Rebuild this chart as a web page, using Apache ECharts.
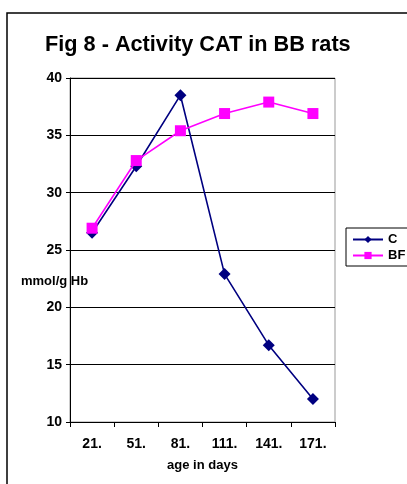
<!DOCTYPE html>
<html><head><meta charset="utf-8">
<script src="https://cdn.jsdelivr.net/npm/echarts@6/dist/echarts.min.js"></script>
<style>html,body{margin:0;padding:0;background:#fff}#c{width:407px;height:484px}</style>
</head><body><div id="c"></div>
<script>
const categories = ['21.', '51.', '81.', '111.', '141.', '171.'];
const seriesC = [26.5, 32.3, 38.5, 22.9, 16.7, 12.0];
const seriesBF = [26.9, 32.8, 35.4, 36.9, 37.9, 36.9];
const yTicks = {min: 10, max: 40, interval: 5};
const F = '"Liberation Sans", Arial, sans-serif';
const chart = echarts.init(document.getElementById('c'));
chart.setOption({
  animation: false,
  backgroundColor: '#fff',
  title: {text: 'Fig 8 - Activity CAT in BB rats', left: 40, top: 29,
    textStyle: {fontFamily: F, fontSize: 21.7, fontWeight: 'bold', color: '#000'}},
  graphic: [
    {type: 'rect', shape: {x: 7, y: 13, width: 420, height: 490}, style: {fill: 'none', stroke: '#000', lineWidth: 1.5}, z: 0},
    {type: 'text', left: 21, top: 275, style: {text: 'mmol/g Hb', font: 'bold 13px ' + F, fill: '#000'}, z: 10}
  ],
  legend: {
    orient: 'vertical', left: 346, top: 228, padding: [5, 6, 4, 6], itemGap: 3,
    borderColor: '#000', borderWidth: 1, itemWidth: 30, itemHeight: 9,
    textStyle: {fontFamily: F, fontSize: 13, fontWeight: 'bold', color: '#000'},
    data: ['C', 'BF']
  },
  grid: {left: 70, right: 72, top: 78, bottom: 62, show: true, borderColor: '#999', borderWidth: 1},
  xAxis: {
    type: 'category', data: categories, boundaryGap: true,
    name: 'age in days', nameLocation: 'middle', nameGap: 37,
    nameTextStyle: {fontFamily: F, fontSize: 13, fontWeight: 'bold', color: '#000'},
    axisLine: {lineStyle: {color: '#000', width: 1}},
    axisTick: {show: true, inside: false, length: 5, lineStyle: {color: '#000'}},
    axisLabel: {fontFamily: F, fontSize: 14, fontWeight: 'bold', color: '#000', margin: 15},
    splitLine: {show: false}
  },
  yAxis: {
    type: 'value', min: yTicks.min, max: yTicks.max, interval: yTicks.interval,
    axisLine: {show: true, lineStyle: {color: '#000', width: 1}},
    axisTick: {show: true, length: 4, lineStyle: {color: '#000'}},
    axisLabel: {fontFamily: F, fontSize: 14, fontWeight: 'bold', color: '#000', margin: 8},
    splitLine: {show: true, lineStyle: {color: '#000', width: 1}}
  },
  series: [
    {name: 'C', type: 'line', data: seriesC, symbol: 'diamond', symbolSize: 12,
      itemStyle: {color: '#000080'}, lineStyle: {color: '#000080', width: 1.6}, z: 2},
    {name: 'BF', type: 'line', data: seriesBF, symbol: 'rect', symbolSize: 11,
      itemStyle: {color: '#FF00FF'}, lineStyle: {color: '#FF00FF', width: 1.6}, z: 3}
  ]
});
</script></body></html>
